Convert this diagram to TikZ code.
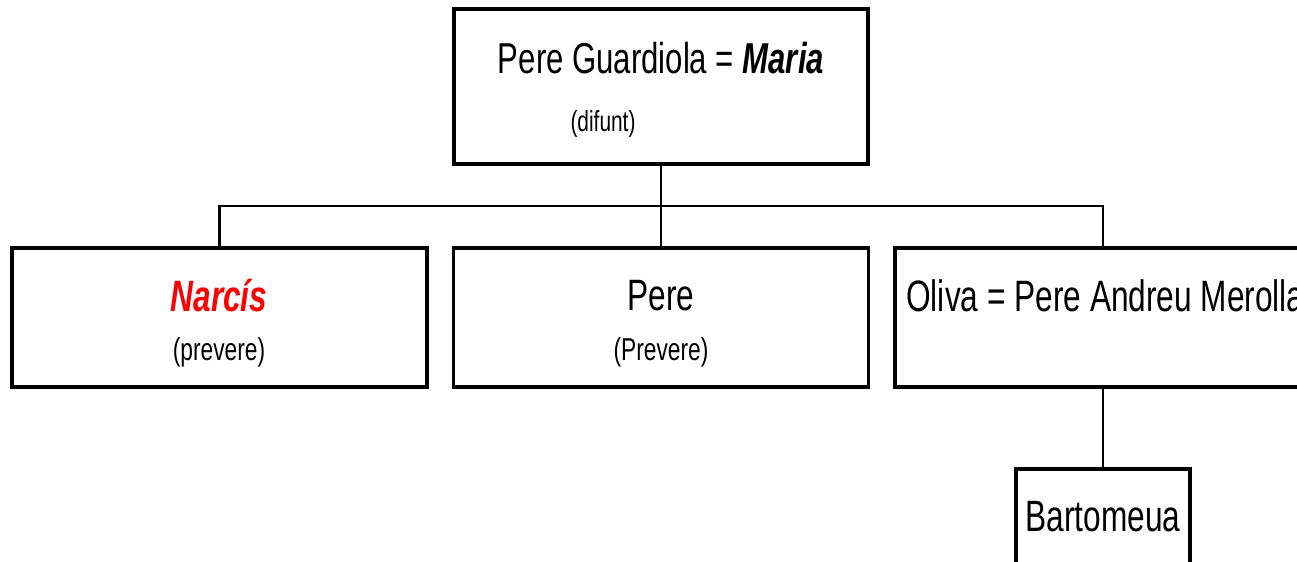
\documentclass[tikz,border=0pt]{standalone}
\usepackage{fontspec}
\setmainfont[FakeStretch=0.72]{Liberation Sans}
\usetikzlibrary{positioning}
\tikzset{
personbox/.style={draw, line width=2pt, inner sep=0pt}
, rowbox/.style={personbox, minimum width=8.3cm, minimum height=2.78cm}
, namenode/.style={inner sep=0pt, font=\fontsize{25}{28}\selectfont}
, notenode/.style={inner sep=0pt, font=\fontsize{18}{20}\selectfont}
, kinline/.style={line width=1.5pt}}
\definecolor{redname}{RGB}{255,0,0}

\begin{document}
\begin{tikzpicture}
\clip (0,0) rectangle (25.94,-11.24);
% boxes
\node[personbox, minimum width=8.28cm, minimum height=3.1cm] at (13.22,-1.73) (gen0) {};
\node[rowbox] at (4.39,-6.35) (narcis) {};
\node[rowbox] at (13.22,-6.35) (pere) {};
\node[rowbox, minimum width=8.32cm] at (22.06,-6.35) (oliva) {};
\node[personbox, minimum width=3.48cm, minimum height=2.0cm] at (22.06,-10.38) (bartomeua) {};
% texts
\node[namenode, font=\fontsize{24.6}{28}\selectfont] at (13.22,-1.16) (gen0txt) {Pere Guardiola = \textbf{\textit{Maria}}};
\node[notenode, font=\fontsize{16.5}{18}\selectfont] at (12.06,-2.48) (gen0note) {(difunt)};
\node[namenode, text=redname] at (4.38,-5.92) (narcistxt) {\textbf{\textit{Narcís}}};
\node[notenode] at (4.38,-7.04) (narcisnote) {(prevere)};
\node[namenode] at (13.22,-5.92) (peretxt) {Pere};
\node[notenode] at (13.22,-7.04) (perenote) {(Prevere)};
\node[namenode, anchor=west] at (18.12,-5.92) (olivatxt) {Oliva = Pere Andreu Merolla};
\node[namenode] at (22.06,-10.34) (bartomeuatxt) {Bartomeua};
% connectors
\coordinate (bus) at (13.22,-4.12);
\draw [kinline] (gen0) -- (pere);
\draw [kinline] (narcis.north) -- (narcis.north |- bus) -- (oliva.north |- bus) -- (oliva.north);
\draw [kinline] (oliva) -- (bartomeua);
\end{tikzpicture}
\end{document}
